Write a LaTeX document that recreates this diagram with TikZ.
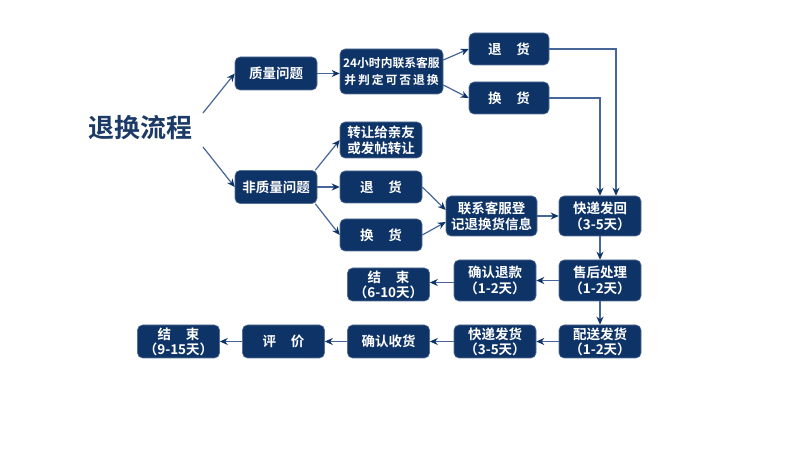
\documentclass[tikz,border=0pt]{standalone}
\usepackage{fontspec}
\setmainfont{Noto Sans CJK SC}[BoldFont={Noto Sans CJK SC Bold}]
\usetikzlibrary{arrows.meta}
\definecolor{boxnavy}{HTML}{0E3367}
\definecolor{titlenavy}{HTML}{1C3A66}
\definecolor{lineblue}{HTML}{46669A}
\tikzset{
  flowbox/.style={draw=boxnavy!70!white, line width=0.6pt, fill=boxnavy, rounded corners=5pt,
    text=white, font=\fontsize{13.5}{15}\selectfont\bfseries, align=center,
    inner sep=0pt, minimum width=82pt, minimum height=33pt},
  twoline/.style={font=\fontsize{13.5}{16}\selectfont\bfseries},
  flowarrow/.style={draw=lineblue, line width=1.2pt, -{Stealth[length=8pt,width=7pt,color=boxnavy]}},
}
\begin{document}
\begin{tikzpicture}[x=1pt,y=-1pt]
\useasboundingbox (0,0) rectangle (790,462);
\node[text=titlenavy, font=\fontsize{26}{28}\selectfont\bfseries] (title) at (140,128) {退换流程};
\coordinate (tu) at (203,113);
\coordinate (td) at (203,147);

\node[flowbox] (q) at (276,73.5) {质量问题};
\node[flowbox] (nq) at (276,187) {非质量问题};
\node[flowbox, minimum width=103pt, minimum height=45pt, font=\fontsize{11.8}{17}\selectfont\bfseries] (h24) at (391.5,71.5) {24小时内联系客服\\并\,判\,定\,可\,否\,退\,换};
\node[flowbox, minimum height=36pt, twoline] (tr) at (381,140) {转让给亲友\\或发帖转让};
\node[flowbox, minimum height=32pt] (th1) at (381,187) {退\hspace{1.1em}货};
\node[flowbox, minimum height=32pt] (hh1) at (381,235) {换\hspace{1.1em}货};
\node[flowbox, minimum width=80pt, minimum height=32pt] (th2) at (509,49) {退\hspace{1.1em}货};
\node[flowbox, minimum width=80pt, minimum height=32pt] (hh2) at (509,98) {换\hspace{1.1em}货};
\node[flowbox, minimum width=91pt, minimum height=40pt, twoline] (lx) at (491.5,216) {联系客服登\\记退换货信息};
\node[flowbox, minimum height=40pt, twoline] (kd) at (600,216) {快递发回\\（3-5天）};
\node[flowbox, minimum height=41pt, twoline] (sh) at (600,280.5) {售后处理\\（1-2天）};
\node[flowbox, minimum height=41pt, twoline] (qrtk) at (495,280.5) {确认退款\\（1-2天）};
\node[flowbox] (end1) at (388.5,284.5) {结\hspace{1.1em}束\\（6-10天）};
\node[flowbox] (ps) at (600,341.5) {配送发货\\（1-2天）};
\node[flowbox] (kdfh) at (495,341.5) {快递发货\\（3-5天）};
\node[flowbox] (qrsh) at (388.5,341.5) {确认收货};
\node[flowbox] (pj) at (283.5,341.5) {评\hspace{1.1em}价};
\node[flowbox] (end2) at (178.5,341.5) {结\hspace{1.1em}束\\（9-15天）};

\draw[flowarrow] (tu) -- (q.west);
\draw[flowarrow] (td) -- (nq.west);
\draw[flowarrow] (q.east) -- (h24.west |- q.east);
\draw[flowarrow] ([yshift=11.5pt]h24.east) -- (th2.west);
\draw[flowarrow] ([yshift=-13.5pt]h24.east) -- (hh2.west);
\draw[flowarrow] ([xshift=-2pt]nq.north east) -- (tr.west);
\draw[flowarrow] (nq.east) -- (th1.west);
\draw[flowarrow] ([xshift=-2pt]nq.south east) -- (hh1.west);
\draw[flowarrow] (th1.east) -- ([yshift=6pt]lx.west);
\draw[flowarrow] (hh1.east) -- ([yshift=-6pt]lx.west);
\draw[flowarrow] (lx.east) -- (kd.west);
\draw[flowarrow] (th2.east) -| ([xshift=16pt]kd.north);
\draw[flowarrow] (hh2.east) -| (kd.north);
\draw[flowarrow] (kd.south) -- (sh.north);
\draw[flowarrow] (sh.south) -- (ps.north);
\draw[flowarrow] (sh.west) -- (qrtk.east);
\draw[flowarrow] ([yshift=-2pt]qrtk.west) -- ([yshift=-2pt]qrtk.west -| end1.east);
\draw[flowarrow] (ps.west) -- (kdfh.east);
\draw[flowarrow] (kdfh.west) -- (qrsh.east);
\draw[flowarrow] (qrsh.west) -- (pj.east);
\draw[flowarrow] (pj.west) -- (end2.east);
\end{tikzpicture}
\end{document}
